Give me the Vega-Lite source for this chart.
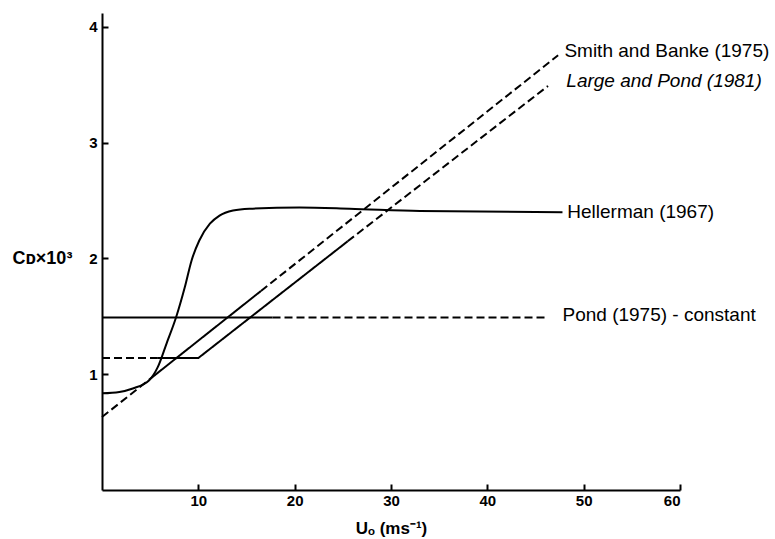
{
  "$schema": "https://vega.github.io/schema/vega-lite/v6.json",
  "width": 578,
  "height": 477,
  "autosize": {"type": "none"},
  "padding": {"left": 102, "top": 13, "right": 95, "bottom": 49},
  "background": "white",
  "config": {"view": {"stroke": null}, "font": "Liberation Sans"},
  "datasets": {
    "curves": [
      {"series": "Smith and Banke", "seg": "sb1", "style": "dashed", "u": 0, "cd": 0.63},
      {"series": "Smith and Banke", "seg": "sb1", "style": "dashed", "u": 5, "cd": 0.96},
      {"series": "Smith and Banke", "seg": "sb2", "style": "solid", "u": 5, "cd": 0.96},
      {"series": "Smith and Banke", "seg": "sb2", "style": "solid", "u": 16.5, "cd": 1.719},
      {"series": "Smith and Banke", "seg": "sb3", "style": "dashed", "u": 16.5, "cd": 1.719},
      {"series": "Smith and Banke", "seg": "sb3", "style": "dashed", "u": 47.35, "cd": 3.755},
      {"series": "Large and Pond", "seg": "lp1", "style": "dashed", "u": 0, "cd": 1.14},
      {"series": "Large and Pond", "seg": "lp1", "style": "dashed", "u": 5.8, "cd": 1.14},
      {"series": "Large and Pond", "seg": "lp2", "style": "solid", "u": 5.8, "cd": 1.14},
      {"series": "Large and Pond", "seg": "lp2", "style": "solid", "u": 10, "cd": 1.14},
      {"series": "Large and Pond", "seg": "lp2", "style": "solid", "u": 25.5, "cd": 2.148},
      {"series": "Large and Pond", "seg": "lp3", "style": "dashed", "u": 25.5, "cd": 2.148},
      {"series": "Large and Pond", "seg": "lp3", "style": "dashed", "u": 46.3, "cd": 3.49},
      {"series": "Pond", "seg": "p1", "style": "solid", "u": 0, "cd": 1.49},
      {"series": "Pond", "seg": "p1", "style": "solid", "u": 17.7, "cd": 1.49},
      {"series": "Pond", "seg": "p2", "style": "dashed", "u": 17.7, "cd": 1.49},
      {"series": "Pond", "seg": "p2", "style": "dashed", "u": 46, "cd": 1.49},
      {"series": "Hellerman", "seg": "h", "style": "solid", "u": 0, "cd": 0.835},
      {"series": "Hellerman", "seg": "h", "style": "solid", "u": 1.8, "cd": 0.847},
      {"series": "Hellerman", "seg": "h", "style": "solid", "u": 3.2, "cd": 0.877},
      {"series": "Hellerman", "seg": "h", "style": "solid", "u": 4.9, "cd": 0.948},
      {"series": "Hellerman", "seg": "h", "style": "solid", "u": 5.8, "cd": 1.063},
      {"series": "Hellerman", "seg": "h", "style": "solid", "u": 6.7, "cd": 1.265},
      {"series": "Hellerman", "seg": "h", "style": "solid", "u": 7.7, "cd": 1.494},
      {"series": "Hellerman", "seg": "h", "style": "solid", "u": 8.6, "cd": 1.753},
      {"series": "Hellerman", "seg": "h", "style": "solid", "u": 9.3, "cd": 1.983},
      {"series": "Hellerman", "seg": "h", "style": "solid", "u": 10.1, "cd": 2.155},
      {"series": "Hellerman", "seg": "h", "style": "solid", "u": 11.2, "cd": 2.3},
      {"series": "Hellerman", "seg": "h", "style": "solid", "u": 12.2, "cd": 2.37},
      {"series": "Hellerman", "seg": "h", "style": "solid", "u": 13.6, "cd": 2.414},
      {"series": "Hellerman", "seg": "h", "style": "solid", "u": 15.3, "cd": 2.43},
      {"series": "Hellerman", "seg": "h", "style": "solid", "u": 20.5, "cd": 2.44},
      {"series": "Hellerman", "seg": "h", "style": "solid", "u": 25.7, "cd": 2.43},
      {"series": "Hellerman", "seg": "h", "style": "solid", "u": 33, "cd": 2.41},
      {"series": "Hellerman", "seg": "h", "style": "solid", "u": 47.8, "cd": 2.4}
    ],
    "labels": [
      {"label": "Smith and Banke (1975)", "u": 48.0, "cd": 3.793, "italic": "no"},
      {"label": "Large and Pond (1981)", "u": 48.2, "cd": 3.534, "italic": "yes"},
      {"label": "Hellerman (1967)", "u": 48.3, "cd": 2.397, "italic": "no"},
      {"label": "Pond (1975) - constant", "u": 47.8, "cd": 1.509, "italic": "no"}
    ]
  },
  "layer": [
    {
      "data": {"name": "curves"},
      "transform": [{"filter": "datum.series != 'Hellerman'"}],
      "mark": {"type": "line", "color": "black", "strokeWidth": 2, "interpolate": "linear"},
      "encoding": {
        "x": {
          "field": "u", "type": "quantitative",
          "scale": {"domain": [0, 60], "nice": false, "zero": false},
          "axis": {
            "values": [10, 20, 30, 40, 50, 60],
            "format": "d",
            "title": "Uₒ (ms⁻¹)",
            "titleFontSize": 17, "titleFontWeight": "bold", "titleColor": "black", "titlePadding": 12,
            "labelFontSize": 15, "labelFontWeight": "bold", "labelColor": "black", "labelPadding": 9,
            "tickSize": -6, "tickWidth": 2, "tickColor": "black",
            "domainWidth": 2, "domainColor": "black", "grid": false
          }
        },
        "y": {
          "field": "cd", "type": "quantitative",
          "scale": {"domain": [0, 4.12], "nice": false, "zero": false},
          "axis": {
            "values": [1, 2, 3, 4],
            "format": "d",
            "title": "Cᴅ×10³",
            "titleAngle": 0, "titleAlign": "left", "titleBaseline": "middle",
            "titleX": -90, "titleY": 245,
            "titleFontSize": 18, "titleFontWeight": "bold", "titleColor": "black",
            "labelFontSize": 15, "labelFontWeight": "bold", "labelColor": "black", "labelPadding": 11,
            "tickSize": -6, "tickWidth": 2, "tickColor": "black",
            "domainWidth": 2, "domainColor": "black", "grid": false
          }
        },
        "detail": {"field": "seg"},
        "strokeDash": {
          "field": "style", "type": "nominal",
          "scale": {"domain": ["solid", "dashed"], "range": [[1, 0], [8, 4]]},
          "legend": null
        }
      }
    },
    {
      "data": {"name": "curves"},
      "transform": [{"filter": "datum.series == 'Hellerman'"}],
      "mark": {"type": "line", "color": "black", "strokeWidth": 2, "interpolate": "monotone"},
      "encoding": {
        "x": {"field": "u", "type": "quantitative"},
        "y": {"field": "cd", "type": "quantitative"}
      }
    },
    {
      "data": {"name": "labels"},
      "transform": [{"filter": "datum.italic == 'no'"}],
      "mark": {"type": "text", "align": "left", "baseline": "middle", "fontSize": 19, "color": "black", "font": "Liberation Sans"},
      "encoding": {
        "x": {"field": "u", "type": "quantitative"},
        "y": {"field": "cd", "type": "quantitative"},
        "text": {"field": "label"}
      }
    },
    {
      "data": {"name": "labels"},
      "transform": [{"filter": "datum.italic == 'yes'"}],
      "mark": {"type": "text", "align": "left", "baseline": "middle", "fontSize": 19, "fontStyle": "italic", "color": "black", "font": "Liberation Sans"},
      "encoding": {
        "x": {"field": "u", "type": "quantitative"},
        "y": {"field": "cd", "type": "quantitative"},
        "text": {"field": "label"}
      }
    }
  ]
}
